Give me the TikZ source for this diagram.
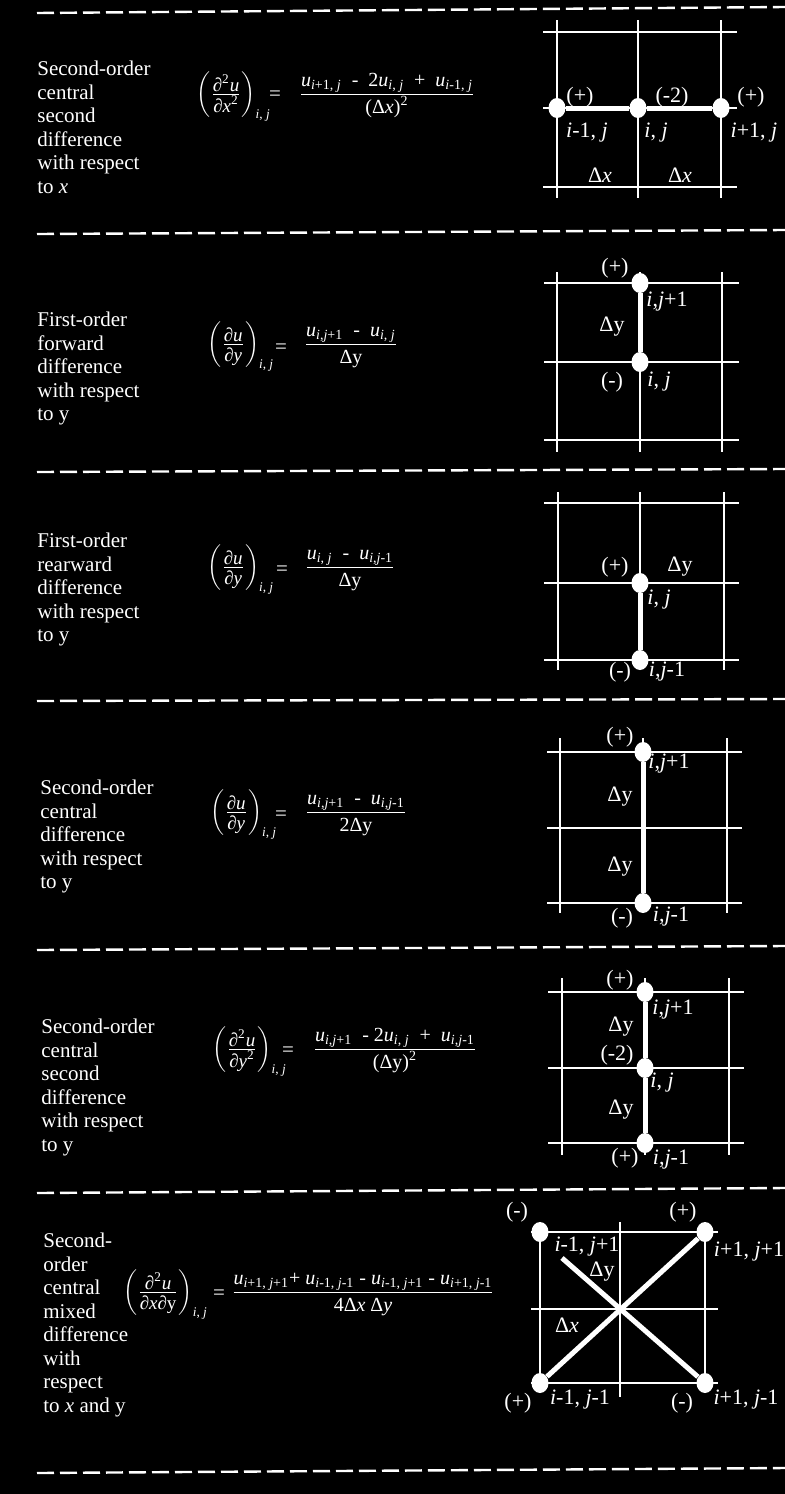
\documentclass[tikz,border=0pt]{standalone}
\usepackage{amsmath}
\usepackage{amssymb}
\usepackage{graphicx}
\usepackage{fontspec}
\setmainfont{Liberation Serif}
\usetikzlibrary{positioning}
\usetikzlibrary{shapes.geometric}
\newcommand{\ci}{\textit{i}}
\newcommand{\cj}{\textit{j}}
\newcommand{\uv}[1]{\textit{u}\textsubscript{#1}}
\newcommand{\dstrut}{\rule{0pt}{9pt}}
\newcommand{\lstrut}{\rule{0pt}{8pt}}
\tikzstyle{sepline} = [white, line width=1.2pt, dash pattern=on 8.5pt off 3pt]
\tikzstyle{gridline} = [white, line width=1pt]
\tikzstyle{stencil} = [white, line width=2.5pt]
\tikzstyle{gridpt} = [ellipse, fill=white, inner sep=0, minimum width=8.5pt, minimum height=10pt]
\tikzstyle{desc} = [text=white, align=left, anchor=north west, inner sep=0,
    font=\fontsize{10.5}{11.75}\selectfont]
\tikzstyle{lbl} = [text=white, inner sep=0, font=\fontsize{11}{12}\selectfont]
\tikzstyle{lhs} = [text=white, inner sep=0, anchor=base west, font=\fontsize{9.5}{11}\selectfont]
\tikzstyle{eqs} = [text=white, inner sep=0, anchor=base, font=\fontsize{10.5}{11}\selectfont]
\tikzstyle{rhs} = [text=white, inner sep=0, anchor=base, font=\fontsize{10}{11}\selectfont]

\begin{document}
\begin{tikzpicture}[x=0.5pt, y=-0.5pt]
    \fill[black] (0,0) rectangle (785,1494);
    \useasboundingbox (0,0) rectangle (785,1494);
    % separators
    \draw[sepline] (37,13) -- (785,7);
    \draw[sepline] (37,234) -- (785,230);
    \draw[sepline] (37,472) -- (785,469);
    \draw[sepline] (37,701) -- (785,699);
    \draw[sepline] (37,950) -- (785,946);
    \draw[sepline] (37,1193) -- (785,1188);
    \draw[sepline] (37,1473) -- (785,1468);

    % second derivative in x
    \node[desc] (txt1) at (37,61) {Second-order\\central\\second\\difference\\with respect\\to \textit{x}};
    \node[lhs] (lhs1) at (196,99) {$\left(\frac{\mbox{∂\textsuperscript{2}\textit{u}}}{\mbox{\lstrut∂\textit{x}\textsuperscript{2}}}\right)_{\text{\ci, \cj}}$};
    \node[eqs] (eq1) at (275,100) {=};
    \node[rhs] (rhs1) at (387,99) {$\frac{\mbox{\uv{\ci+1, \cj}\ \ -\ \ 2\uv{\ci, \cj}\ \ +\ \ \uv{\ci-1, \cj}}}{\mbox{\dstrut(Δ\textit{x})\textsuperscript{2}}}$};
    \draw[gridline] (543,32) -- (737,32) (543,108) -- (737,108) (543,187) -- (737,187)
        (557,20) -- (557,198) (638,20) -- (638,198) (721,20) -- (721,198);
    \node[gridpt] (a1) at (557,108) {};
    \node[gridpt] (b1) at (638,108) {};
    \node[gridpt] (c1) at (721,108) {};
    \draw[stencil] (a1) -- (b1) -- (c1);
    \node[lbl] at (580,97) {(+)};
    \node[lbl] at (672,97) {(-2)};
    \node[lbl] at (751,97) {(+)};
    \node[lbl] at (587,133) {\ci-1, \cj};
    \node[lbl] at (656,133) {\ci, \cj};
    \node[lbl] at (754,133) {\ci+1, \cj};
    \node[lbl] at (600,175) {Δ\textit{x}};
    \node[lbl] at (680,175) {Δ\textit{x}};

    % forward difference in y
    \node[desc] (txt2) at (37,312) {First-order\\forward\\difference\\with respect\\to y};
    \node[lhs] (lhs2) at (207,349) {$\left(\frac{\mbox{∂\textit{u}}}{\mbox{\lstrut∂\textit{y}}}\right)_{\text{\ci, \cj}}$};
    \node[eqs] (eq2) at (281,353) {=};
    \node[rhs] (rhs2) at (351,349) {$\frac{\mbox{\uv{\ci,\cj+1}\ \ -\ \ \uv{\ci, \cj}}}{\mbox{\dstrut Δy}}$};
    \draw[gridline] (544,283) -- (739,283) (544,362) -- (739,362) (544,440) -- (739,440)
        (557,272) -- (557,452) (640,272) -- (640,452) (722,272) -- (722,452);
    \node[gridpt] (a2) at (640,283) {};
    \node[gridpt] (b2) at (640,362) {};
    \draw[stencil] (a2) -- (b2);
    \node[lbl] at (615,268) {(+)};
    \node[lbl] at (667,302) {\ci,\cj+1};
    \node[lbl] at (612,327) {Δy};
    \node[lbl] at (612,382) {(-)};
    \node[lbl] at (659,382) {\ci, \cj};

    % rearward difference in y
    \node[desc] (txt3) at (37,533) {First-order\\rearward\\difference\\with respect\\to y};
    \node[lhs] (lhs3) at (207,572) {$\left(\frac{\mbox{∂\textit{u}}}{\mbox{\lstrut∂\textit{y}}}\right)_{\text{\ci, \cj}}$};
    \node[eqs] (eq3) at (282,575) {=};
    \node[rhs] (rhs3) at (350,572) {$\frac{\mbox{\uv{\ci, \cj}\ \ -\ \ \uv{\ci,\cj-1}}}{\mbox{\dstrut Δy}}$};
    \draw[gridline] (544,503) -- (739,503) (544,583) -- (739,583) (544,660) -- (739,660)
        (558,492) -- (558,670) (640,492) -- (640,670) (724,492) -- (724,670);
    \node[gridpt] (a3) at (640,583) {};
    \node[gridpt] (b3) at (640,660) {};
    \draw[stencil] (a3) -- (b3);
    \node[lbl] at (615,567) {(+)};
    \node[lbl] at (680,567) {Δy};
    \node[lbl] at (659,600) {\ci, \cj};
    \node[lbl] at (620,672) {(-)};
    \node[lbl] at (667,672) {\ci,\cj-1};

    % central difference in y
    \node[desc] (txt4) at (40,780) {Second-order\\central\\difference\\with respect\\to y};
    \node[lhs] (lhs4) at (210,817) {$\left(\frac{\mbox{∂\textit{u}}}{\mbox{\lstrut∂\textit{y}}}\right)_{\text{\ci, \cj}}$};
    \node[eqs] (eq4) at (281,820) {=};
    \node[rhs] (rhs4) at (356,817) {$\frac{\mbox{\uv{\ci,\cj+1}\ \ -\ \ \uv{\ci,\cj-1}}}{\mbox{\dstrut 2Δy}}$};
    \draw[gridline] (547,752) -- (742,752) (547,828) -- (742,828) (547,903) -- (742,903)
        (560,738) -- (560,913) (643,738) -- (643,913) (727,738) -- (727,913);
    \node[gridpt] (a4) at (643,752) {};
    \node[gridpt] (b4) at (643,903) {};
    \draw[stencil] (a4) -- (b4);
    \node[lbl] at (620,737) {(+)};
    \node[lbl] at (669,764) {\ci,\cj+1};
    \node[lbl] at (620,797) {Δy};
    \node[lbl] at (620,867) {Δy};
    \node[lbl] at (622,918) {(-)};
    \node[lbl] at (671,917) {\ci,\cj-1};

    % second derivative in y
    \node[desc] (txt5) at (41,1019) {Second-order\\central\\second\\difference\\with respect\\to y};
    \node[lhs] (lhs5) at (212,1054) {$\left(\frac{\mbox{∂\textsuperscript{2}\textit{u}}}{\mbox{\lstrut∂\textit{y}\textsuperscript{2}}}\right)_{\text{\ci, \cj}}$};
    \node[eqs] (eq5) at (288,1056) {=};
    \node[rhs] (rhs5) at (395,1054) {$\frac{\mbox{\uv{\ci,\cj+1}\ \ -\ 2\uv{\ci, \cj}\ \ +\ \ \uv{\ci,\cj-1}}}{\mbox{\dstrut(Δy)\textsuperscript{2}}}$};
    \draw[gridline] (548,992) -- (744,992) (548,1068) -- (744,1068) (548,1143) -- (744,1143)
        (562,978) -- (562,1155) (645,978) -- (645,1155) (729,978) -- (729,1155);
    \node[gridpt] (a5) at (645,992) {};
    \node[gridpt] (b5) at (645,1068) {};
    \node[gridpt] (c5) at (645,1143) {};
    \draw[stencil] (a5) -- (b5) -- (c5);
    \node[lbl] at (620,980) {(+)};
    \node[lbl] at (673,1010) {\ci,\cj+1};
    \node[lbl] at (621,1027) {Δy};
    \node[lbl] at (617,1055) {(-2)};
    \node[lbl] at (662,1083) {\ci, \cj};
    \node[lbl] at (621,1110) {Δy};
    \node[lbl] at (625,1158) {(+)};
    \node[lbl] at (671,1160) {\ci,\cj-1};

    % mixed derivative
    \node[desc] (txt6) at (43,1233) {Second-\\order\\central\\mixed\\difference\\with\\respect\\to \textit{x} and y};
    \node[lhs] (lhs6) at (123,1297) {$\left(\frac{\mbox{∂\textsuperscript{2}\textit{u}}}{\mbox{\lstrut∂\textit{x}∂y}}\right)_{\text{\ci, \cj}}$};
    \node[eqs] (eq6) at (219,1299) {=};
    \node[rhs] (rhs6) at (363,1297) {$\frac{\mbox{\uv{\ci+1, \cj+1}+ \uv{\ci-1, \cj-1} - \uv{\ci-1, \cj+1} - \uv{\ci+1, \cj-1}}}{\mbox{\dstrut 4Δ\textit{x} Δ\textit{y}}}$};
    \draw[gridline] (531,1232) -- (718,1232) (531,1309) -- (718,1309) (531,1383) -- (718,1383)
        (540,1232) -- (540,1390) (620,1222) -- (620,1397) (705,1232) -- (705,1390);
    \node[gridpt] (nw6) at (540,1232) {};
    \node[gridpt] (ne6) at (705,1232) {};
    \node[gridpt] (sw6) at (540,1383) {};
    \node[gridpt] (se6) at (705,1383) {};
    \coordinate (cut6) at (562,1258);
    \draw[stencil] (sw6) -- (ne6);
    \draw[stencil] (cut6) -- (se6);
    \node[lbl] at (517,1212) {(-)};
    \node[lbl] at (683,1212) {(+)};
    \node[lbl] at (587,1247) {\ci-1, \cj+1};
    \node[lbl] at (749,1252) {\ci+1, \cj+1};
    \node[lbl] at (602,1272) {Δy};
    \node[lbl] at (567,1325) {Δ\textit{x}};
    \node[lbl] at (518,1403) {(+)};
    \node[lbl] at (580,1400) {\ci-1, \cj-1};
    \node[lbl] at (682,1403) {(-)};
    \node[lbl] at (746,1400) {\ci+1, \cj-1};
\end{tikzpicture}
\end{document}
